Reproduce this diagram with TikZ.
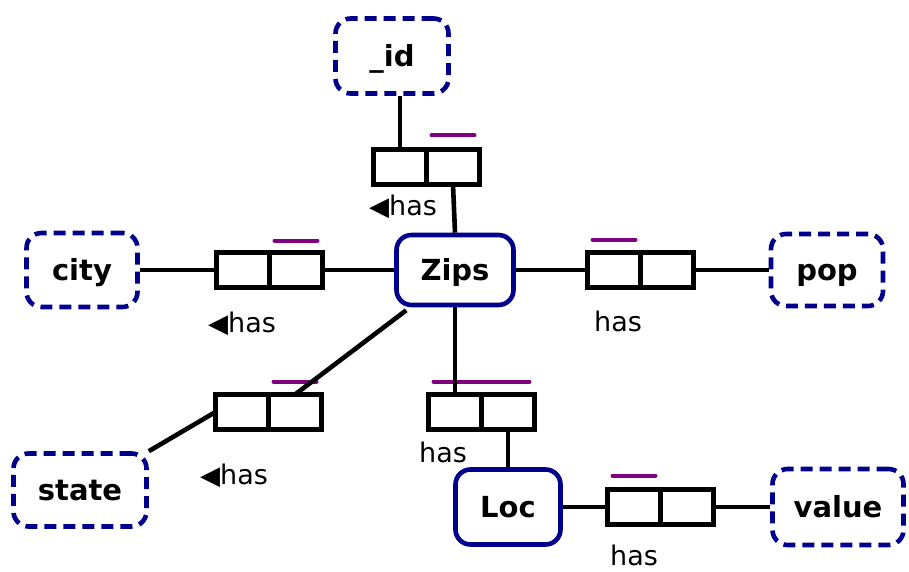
\documentclass[tikz,border=0pt]{standalone}
\usepackage{fontspec}
\setmainfont{DejaVu Sans}
\newcommand{\trigfont}{\fontsize{26}{26}\selectfont}
\begin{document}
\begin{tikzpicture}[x=1pt,y=-1pt,
  ent/.style={draw=navyb,line width=4.6pt,rounded corners=15pt,fill=white,
     font=\fontsize{29}{30}\selectfont\bfseries,inner sep=0pt,text height=21pt,text depth=0pt},
  attr/.style={ent,dashed,dash pattern=on 12pt off 7pt},
  cell/.style={draw=black,line width=4.4pt,minimum width=53pt,minimum height=35pt,inner sep=0pt,outer sep=0pt,fill=white},
  conn/.style={line width=4.6pt,black},
  bar/.style={line width=4pt,purpleb,line cap=round},
  lbl/.style={font=\fontsize{27}{28}\selectfont,inner sep=0pt}
]
\definecolor{navyb}{RGB}{0,0,140}
\definecolor{purpleb}{RGB}{128,0,128}
\useasboundingbox (0,0) rectangle (909,572);
% entities
\node[attr,minimum width=113pt,minimum height=75pt] (id) at (392,56) {\_id};
\node[ent,minimum width=117pt,minimum height=70pt] (zips) at (455,270) {Zips};
\node[attr,minimum width=111pt,minimum height=74pt] (city) at (82,270) {city};
\node[attr,minimum width=112pt,minimum height=72pt] (pop) at (827,270) {pop};
\node[attr,minimum width=133pt,minimum height=73pt] (state) at (80,490) {state};
\node[ent,minimum width=105pt,minimum height=75pt] (loc) at (508,507) {Loc};
\node[attr,minimum width=131pt,minimum height=76pt] (value) at (838,507) {value};
% role boxes
\node[cell] (idL) at (400,167) {};
\node[cell,anchor=west] (idR) at (idL.east) {};
\node[cell] (cityL) at (243,270) {};
\node[cell,anchor=west] (cityR) at (cityL.east) {};
\node[cell] (popL) at (614,270) {};
\node[cell,anchor=west] (popR) at (popL.east) {};
\node[cell] (stL) at (242,412) {};
\node[cell,anchor=west] (stR) at (stL.east) {};
\node[cell] (locL) at (455,412) {};
\node[cell,anchor=west] (locR) at (locL.east) {};
\node[cell] (valL) at (634,507) {};
\node[cell,anchor=west] (valR) at (valL.east) {};
% purple bars
\draw[bar] ([xshift=5pt,yshift=14pt]idR.north west) -- ([xshift=-5pt,yshift=14pt]idR.north east);
\draw[bar] ([xshift=5pt,yshift=12pt]cityR.north west) -- ([xshift=-5pt,yshift=12pt]cityR.north east);
\draw[bar] ([xshift=5pt,yshift=13pt]popL.north west) -- ([xshift=-5pt,yshift=13pt]popL.north east);
\draw[bar] ([xshift=5pt,yshift=13pt]stR.north west) -- ([xshift=-5pt,yshift=13pt]stR.north east);
\draw[bar] ([xshift=5pt,yshift=13pt]locL.north west) -- ([xshift=-5pt,yshift=13pt]locR.north east);
\draw[bar] ([xshift=5pt,yshift=14pt]valL.north west) -- ([xshift=-5pt,yshift=14pt]valL.north east);
% connectors
\draw[conn] (id.south -| idL.north) -- (idL.north);
\draw[conn] (idR.south) -- (zips.north);
\draw[conn] (city.east) -- (cityL.west);
\draw[conn] (cityR.east) -- (zips.west);
\draw[conn] (zips.east) -- (popL.west);
\draw[conn] (popR.east) -- (pop.west);
\draw[conn] (zips.south west) ++(12pt,-3pt) coordinate (zsw) -- (stR.north);
\draw[conn] (stL.west) -- (state.north east);
\draw[conn] (zips.south) -- (locL.north);
\draw[conn] (locR.south) -- (loc.north -| locR.south);
\draw[conn] (loc.east) -- (valL.west);
\draw[conn] (valR.east) -- (value.west);
% labels
\node[lbl] (l1) at (403,207) {{\trigfont ◀}has};
\node[lbl] (l2) at (242,324) {{\trigfont ◀}has};
\node[lbl] (l3) at (618,321) {has};
\node[lbl] (l4) at (234,476) {{\trigfont ◀}has};
\node[lbl] (l5) at (443,452) {has};
\node[lbl] (l6) at (634,555) {has};
\end{tikzpicture}
\end{document}
